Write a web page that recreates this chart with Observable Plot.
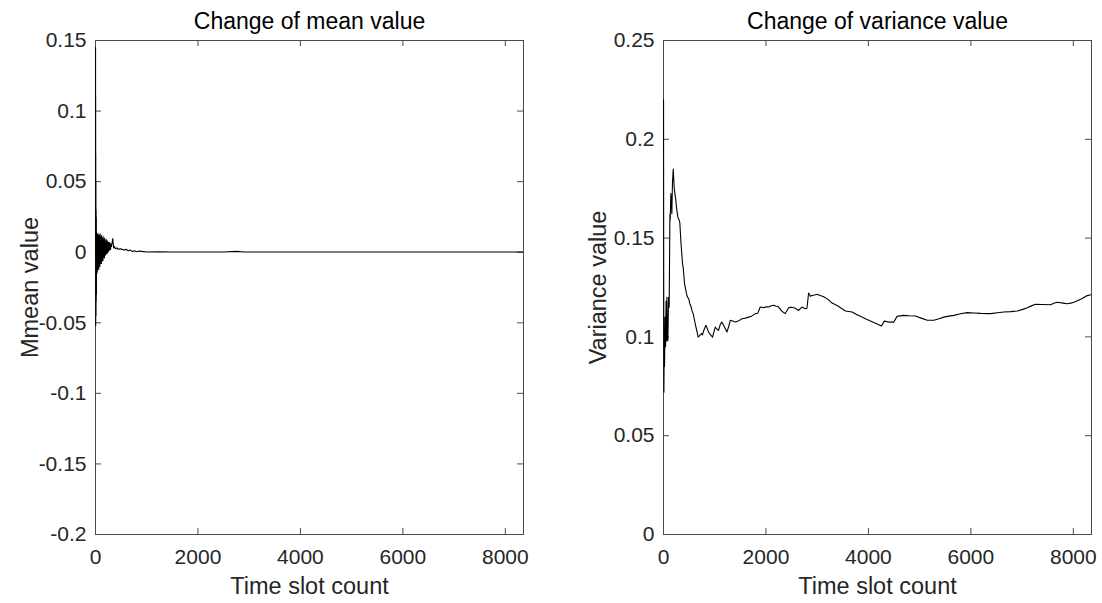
<!DOCTYPE html>
<html>
<head>
<meta charset="utf-8">
<script src="https://cdn.jsdelivr.net/npm/d3@7"></script>
<script src="https://cdn.jsdelivr.net/npm/@observablehq/plot@0.6"></script>
<style>
  html, body { margin: 0; padding: 0; background: #fff; }
  #wrap { position: relative; width: 1102px; height: 603px; overflow: hidden; }
  #left, #right { position: absolute; top: 0; }
  #left { left: 0; }
  #right { left: 560px; }
</style>
</head>
<body>
<div id="wrap"><div id="left"></div><div id="right"></div></div>
<script>
// ---- data ----
const xMax = 8355;
const xTicks = [0, 2000, 4000, 6000, 8000];
const meanYTicks = [-0.2, -0.15, -0.1, -0.05, 0, 0.05, 0.1, 0.15];
const varYTicks = [0, 0.05, 0.1, 0.15, 0.2, 0.25];
const titles = ["Change of mean value", "Change of variance value"];
const xLabel = "Time slot count";
const yLabels = ["Mmean value", "Variance value"];

const meanX = [1, 2, 3, 4, 5, 6, 8, 10, 12, 14, 16, 18, 20, 25, 30, 35, 40, 45, 50, 55, 60, 65, 70, 75, 80, 85, 90, 95, 100,
  105, 110, 115, 120, 125, 130, 135, 140, 145, 150, 155, 160, 165, 170, 175, 180, 185, 190, 195, 200,
  205, 210, 215, 220, 225, 230, 235, 240, 245, 250, 255, 260, 265, 270, 275, 280, 285, 290, 295, 300,
  310, 320, 330, 337, 345, 355, 370, 390, 420, 450, 480, 520, 560, 600, 640, 680, 720, 760, 800, 850,
  900, 1000, 1200, 1500, 2000, 2500, 2750, 2900, 3500, 5000, 8355];
const meanY = [0.145, -0.03, 0.11, -0.052, 0.07, -0.04, 0.05, -0.045, 0.03, -0.035, 0.025, -0.03, 0.014, -0.015, 0.013,
  -0.014, 0.012, -0.012, 0.013, -0.011, 0.011, -0.012, 0.012, -0.009, 0.010, -0.010, 0.013, -0.008, 0.011,
  -0.007, 0.009, -0.008, 0.012, -0.006, 0.010, -0.005, 0.009, -0.006, 0.011, -0.004, 0.008, -0.003, 0.009,
  -0.004, 0.010, -0.002, 0.007, -0.002, 0.008, -0.001, 0.009, 0.000, 0.007, -0.001, 0.008, 0.001, 0.006,
  0.000, 0.007, 0.002, 0.006, 0.001, 0.007, 0.002, 0.006, 0.003, 0.005, 0.002, 0.006,
  0.004, 0.006, 0.008, 0.0096, 0.006, 0.003, 0.004, 0.0025, 0.003, 0.002, 0.0025, 0.002, 0.0015, 0.002, 0.001,
  0.0015, 0.0005, 0.001, 0.0003, 0.0008, 0.0006, 0.0002, 0.0003, 0.0001, 0.0002, 0.0001, 0.0006, 0.0002,
  0.0001, 0.0001, 0.0001];

const varX = [1, 4, 8, 12, 20, 30, 40, 50, 60, 66, 75, 86, 98, 111, 125, 130, 144, 150, 163, 175, 190, 208, 225,
  241, 253, 280, 306, 318, 340, 371, 384, 410, 449, 470, 490, 514, 540, 554, 579, 619, 650, 677, 700, 742,
  760, 790, 827, 850, 879, 920, 957, 985, 1010, 1040, 1075, 1110, 1140, 1190, 1238, 1270, 1303, 1350, 1401,
  1460, 1531, 1600, 1661, 1720, 1792, 1840, 1889, 1950, 2000, 2052, 2100, 2150, 2200, 2247, 2310, 2377,
  2443, 2500, 2573, 2638, 2703, 2768, 2800, 2833, 2870, 2899, 2950, 2997, 3060, 3127, 3210, 3290, 3388,
  3470, 3551, 3681, 3760, 3844, 3940, 4039, 4150, 4254, 4313, 4398, 4495, 4560, 4691, 4800, 4919, 5030,
  5147, 5277, 5380, 5472, 5568, 5668, 5800, 5928, 6060, 6189, 6384, 6520, 6645, 6780, 6905, 7000, 7101,
  7180, 7263, 7400, 7556, 7620, 7687, 7800, 7882, 7950, 8012, 8100, 8175, 8230, 8273, 8352];
const varY = [0.22, 0.13, 0.072, 0.09, 0.085, 0.11, 0.095, 0.118, 0.098, 0.12, 0.1, 0.098, 0.12, 0.115, 0.162,
  0.159, 0.1725, 0.17, 0.1623, 0.178, 0.185, 0.1758, 0.172, 0.169, 0.1657, 0.1606, 0.159, 0.158, 0.148,
  0.1371, 0.1353, 0.127, 0.1219, 0.120, 0.1195, 0.1168, 0.1151, 0.1134, 0.1118, 0.1067, 0.1030, 0.0999,
  0.1005, 0.1017, 0.1010, 0.1035, 0.1059, 0.1045, 0.1025, 0.101, 0.0999, 0.1025, 0.105, 0.104, 0.1033,
  0.1065, 0.1075, 0.105, 0.1025, 0.105, 0.1084, 0.108, 0.1075, 0.108, 0.1092, 0.1095, 0.11, 0.1105, 0.1118,
  0.112, 0.1151, 0.1148, 0.1152, 0.1151, 0.1158, 0.116, 0.1155, 0.1151, 0.113, 0.1118, 0.1148, 0.115,
  0.1145, 0.1134, 0.1151, 0.1143, 0.1145, 0.1222, 0.1205, 0.121, 0.1212, 0.1216, 0.121, 0.1203, 0.119,
  0.1171, 0.1159, 0.1145, 0.1131, 0.1126, 0.1115, 0.1104, 0.1092, 0.108, 0.1068, 0.1055, 0.108, 0.1075,
  0.1075, 0.1104, 0.1109, 0.1107, 0.1106, 0.1095, 0.1084, 0.1084, 0.1092, 0.11, 0.1105, 0.1109, 0.1117,
  0.1123, 0.1121, 0.1119, 0.1118, 0.1122, 0.1126, 0.1128, 0.1131, 0.1138, 0.1148, 0.1157, 0.1165, 0.1164,
  0.1163, 0.117, 0.1175, 0.1171, 0.1168, 0.1171, 0.1175, 0.1185, 0.1194, 0.1203, 0.1209, 0.1214];

// ---- drawing ----
const FONT = "'Liberation Sans', Arial, Helvetica, sans-serif";
const TXT = "#262626";
const AXC = "#4a4a4a";

function panel({xs, ys, yDomain, yTicks, title, yLabel, width, marginLeft, marginRight}) {
  const height = 603, marginTop = 40, marginBottom = 69;
  const H = height - marginTop - marginBottom;
  const W = width - marginLeft - marginRight;
  const data = xs.map((x, i) => ({x, y: ys[i]}));
  const tick = 6;
  return Plot.plot({
    width, height, marginTop, marginBottom, marginLeft, marginRight,
    style: {fontFamily: FONT, color: TXT, background: "transparent", overflow: "visible"},
    x: {domain: [0, xMax], axis: null},
    y: {domain: yDomain, axis: null},
    marks: [
      Plot.frame({stroke: AXC, strokeWidth: 1}),
      Plot.tickX(xTicks, {x: d => d, stroke: AXC, insetTop: H - tick}),
      Plot.tickX(xTicks, {x: d => d, stroke: AXC, insetBottom: H - tick}),
      Plot.tickY(yTicks, {y: d => d, stroke: AXC, insetRight: W - tick}),
      Plot.tickY(yTicks, {y: d => d, stroke: AXC, insetLeft: W - tick}),
      Plot.axisX(xTicks, {anchor: "bottom", tickSize: 0, tickPadding: 15, fontSize: 21, label: null, tickFormat: d => String(d), fill: TXT}),
      Plot.axisY(yTicks, {anchor: "left", tickSize: 0, tickPadding: 9, fontSize: 21, label: null, tickFormat: d => String(d), fill: TXT}),
      Plot.text([title], {text: d => d, frameAnchor: "top", lineAnchor: "bottom", dy: -12, fontSize: 23, fill: "#000"}),
      Plot.text([xLabel], {text: d => d, frameAnchor: "bottom", lineAnchor: "bottom", dy: 59, fontSize: 23.5, fill: TXT}),
      Plot.text([yLabel], {text: d => d, frameAnchor: "left", textAnchor: "middle", rotate: -90, dx: -65, fontSize: 23.5, fill: TXT}),
      Plot.line(data, {x: "x", y: "y", stroke: "#000", strokeWidth: 1.1, clip: true})
    ]
  });
}

document.getElementById("left").appendChild(panel({
  xs: meanX, ys: meanY, yDomain: [-0.2, 0.15], yTicks: meanYTicks,
  title: titles[0], yLabel: yLabels[0], width: 560, marginLeft: 95, marginRight: 37
}));
document.getElementById("right").appendChild(panel({
  xs: varX, ys: varY, yDomain: [0, 0.25], yTicks: varYTicks,
  title: titles[1], yLabel: yLabels[1], width: 542, marginLeft: 103, marginRight: 11
}));
</script>
</body>
</html>
